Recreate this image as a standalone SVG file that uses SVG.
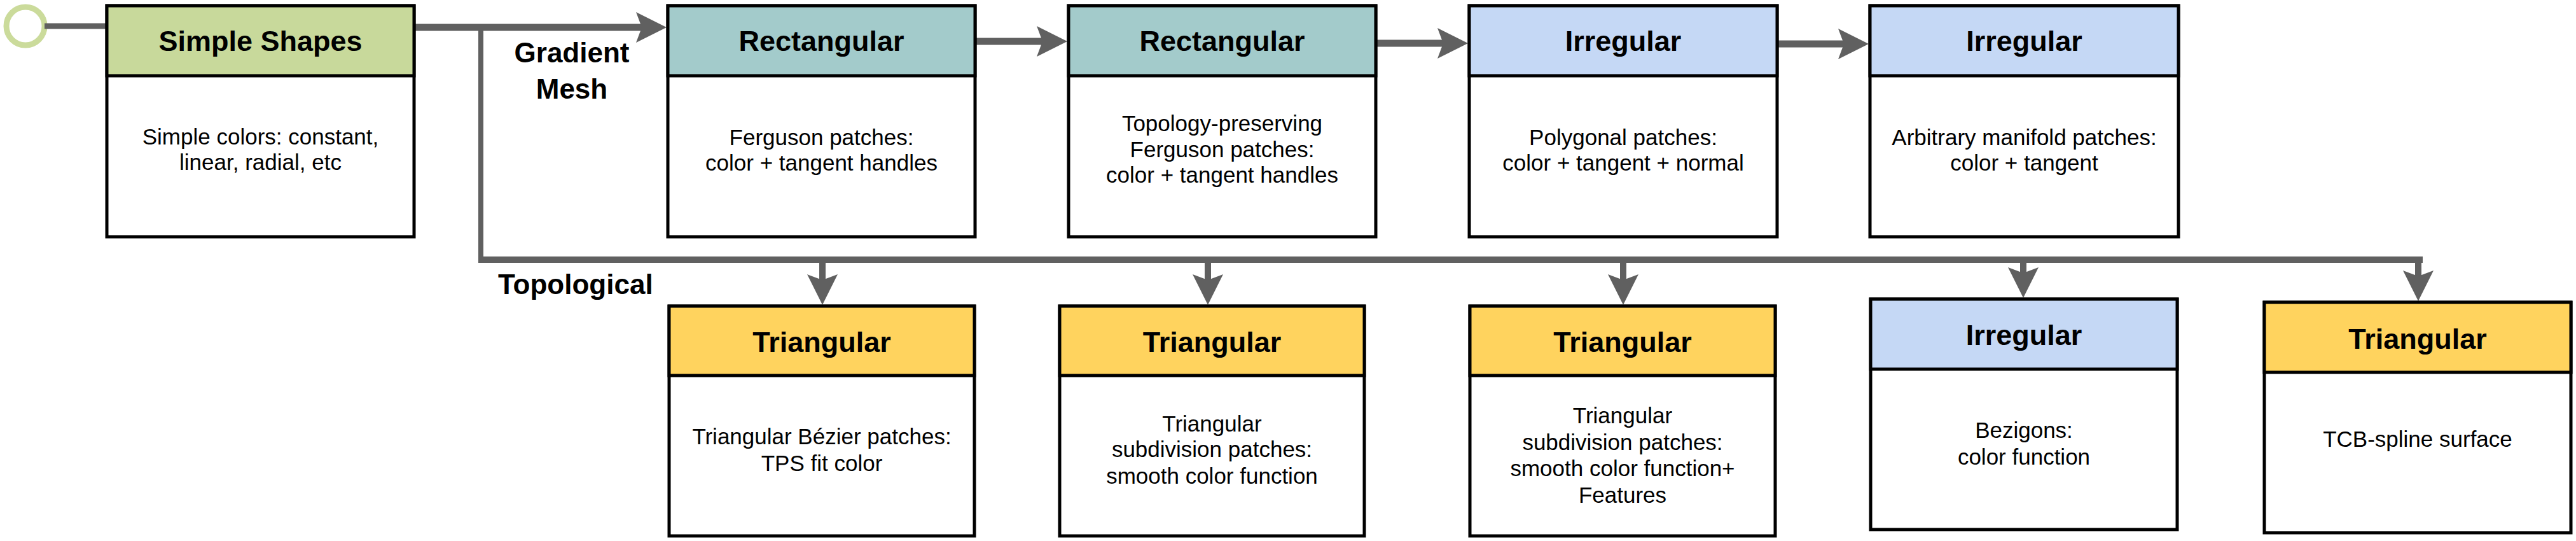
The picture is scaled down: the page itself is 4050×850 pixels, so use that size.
<svg xmlns="http://www.w3.org/2000/svg" width="4050" height="850" viewBox="0 0 4050 850">
<defs>
<style>
.hd{stroke:#000;stroke-width:5}
.body{fill:#fff;stroke:#000;stroke-width:5}
.g{fill:#C8D99B}.t{fill:#A3CBCB}.b{fill:#C5D8F5}.y{fill:#FFD35E}
.title{font-family:"Liberation Sans",Arial,sans-serif;font-weight:bold;font-size:45px;text-anchor:middle;fill:#000}
.txt{font-family:"Liberation Sans",Arial,sans-serif;font-size:35px;text-anchor:middle;fill:#000}
.lbl{font-family:"Liberation Sans",Arial,sans-serif;font-weight:bold;font-size:44px;fill:#000}
.c{fill:none;stroke:#606060}
.thick{stroke-width:11}
.mid{stroke-width:10}
.thin{stroke-width:8}
</style>
<marker id="ah" markerUnits="userSpaceOnUse" viewBox="0 0 48 48" markerWidth="48" markerHeight="48" refX="9" refY="24" orient="auto">
<path d="M0,0 L48,24 L0,48 L9,24 Z" fill="#606060"/>
</marker>
</defs>
<rect width="4050" height="850" fill="#fff"/>

<g id="connectors">
<circle cx="40" cy="41" r="30" fill="none" stroke="#CBDB9B" stroke-width="9"/>
<line class="c" x1="70" y1="41" x2="168" y2="41" stroke-width="9"/>
<line class="c thick" x1="651" y1="43" x2="1009" y2="43" marker-end="url(#ah)"/>
<line class="c thin" x1="756" y1="43" x2="756" y2="408"/>
<polyline class="c mid" points="752,408 3804,408 3804,413"/>
<line class="c thick" x1="1533" y1="65" x2="1639" y2="65" marker-end="url(#ah)"/>
<line class="c thick" x1="2163" y1="68" x2="2269" y2="68" marker-end="url(#ah)"/>
<line class="c thick" x1="2794" y1="69" x2="2899" y2="69" marker-end="url(#ah)"/>
<line class="c mid" x1="1293" y1="408" x2="1293" y2="440" marker-end="url(#ah)"/>
<line class="c mid" x1="1899" y1="408" x2="1899" y2="440" marker-end="url(#ah)"/>
<line class="c mid" x1="2552" y1="408" x2="2552" y2="440" marker-end="url(#ah)"/>
<line class="c mid" x1="3181" y1="408" x2="3181" y2="429" marker-end="url(#ah)"/>
<line class="c mid" x1="3802" y1="408" x2="3802" y2="434" marker-end="url(#ah)"/>
<text class="lbl" x="899" y="98" text-anchor="middle">Gradient</text>
<text class="lbl" x="899" y="155" text-anchor="middle">Mesh</text>
<text class="lbl" x="783" y="462">Topological</text>
</g>

<g id="simple-shapes">
<rect class="body" x="168" y="9" width="483" height="363"/>
<rect class="hd g" x="168" y="9" width="483" height="110"/>
<text class="title" x="409.5" y="80">Simple Shapes</text>
<text class="txt" x="409.5" y="227">Simple colors: constant,</text>
<text class="txt" x="409.5" y="267">linear, radial, etc</text>
</g>

<g id="rect1">
<rect class="body" x="1050" y="9" width="483" height="363"/>
<rect class="hd t" x="1050" y="9" width="483" height="110"/>
<text class="title" x="1291.5" y="80">Rectangular</text>
<text class="txt" x="1291.5" y="228">Ferguson patches:</text>
<text class="txt" x="1291.5" y="268">color + tangent handles</text>
</g>

<g id="rect2">
<rect class="body" x="1680" y="9" width="483" height="363"/>
<rect class="hd t" x="1680" y="9" width="483" height="110"/>
<text class="title" x="1921.5" y="80">Rectangular</text>
<text class="txt" x="1921.5" y="206">Topology-preserving</text>
<text class="txt" x="1921.5" y="247">Ferguson patches:</text>
<text class="txt" x="1921.5" y="287">color + tangent handles</text>
</g>

<g id="irr1">
<rect class="body" x="2310" y="9" width="484" height="363"/>
<rect class="hd b" x="2310" y="9" width="484" height="110"/>
<text class="title" x="2552" y="80">Irregular</text>
<text class="txt" x="2552" y="228">Polygonal patches:</text>
<text class="txt" x="2552" y="268">color + tangent + normal</text>
</g>

<g id="irr2">
<rect class="body" x="2940" y="9" width="485" height="363"/>
<rect class="hd b" x="2940" y="9" width="485" height="110"/>
<text class="title" x="3182.5" y="80">Irregular</text>
<text class="txt" x="3182.5" y="228">Arbitrary manifold patches:</text>
<text class="txt" x="3182.5" y="268">color + tangent</text>
</g>

<g id="tri1">
<rect class="body" x="1052" y="481" width="480" height="361"/>
<rect class="hd y" x="1052" y="481" width="480" height="109"/>
<text class="title" x="1292" y="553">Triangular</text>
<text class="txt" x="1292" y="698">Triangular Bézier patches:</text>
<text class="txt" x="1292" y="740">TPS fit color</text>
</g>

<g id="tri2">
<rect class="body" x="1666" y="481" width="479" height="361"/>
<rect class="hd y" x="1666" y="481" width="479" height="109"/>
<text class="title" x="1905.5" y="553">Triangular</text>
<text class="txt" x="1905.5" y="678">Triangular</text>
<text class="txt" x="1905.5" y="718">subdivision patches:</text>
<text class="txt" x="1905.5" y="760">smooth color function</text>
</g>

<g id="tri3">
<rect class="body" x="2311" y="481" width="480" height="361"/>
<rect class="hd y" x="2311" y="481" width="480" height="109"/>
<text class="title" x="2551" y="553">Triangular</text>
<text class="txt" x="2551" y="665">Triangular</text>
<text class="txt" x="2551" y="707">subdivision patches:</text>
<text class="txt" x="2551" y="748">smooth color function+</text>
<text class="txt" x="2551" y="790">Features</text>
</g>

<g id="irr3">
<rect class="body" x="2941" y="470" width="482" height="362"/>
<rect class="hd b" x="2941" y="470" width="482" height="110"/>
<text class="title" x="3182" y="542">Irregular</text>
<text class="txt" x="3182" y="688">Bezigons:</text>
<text class="txt" x="3182" y="730">color function</text>
</g>

<g id="tri5">
<rect class="body" x="3560" y="475" width="482" height="362"/>
<rect class="hd y" x="3560" y="475" width="482" height="110"/>
<text class="title" x="3801" y="548">Triangular</text>
<text class="txt" x="3801" y="702">TCB-spline surface</text>
</g>
</svg>
